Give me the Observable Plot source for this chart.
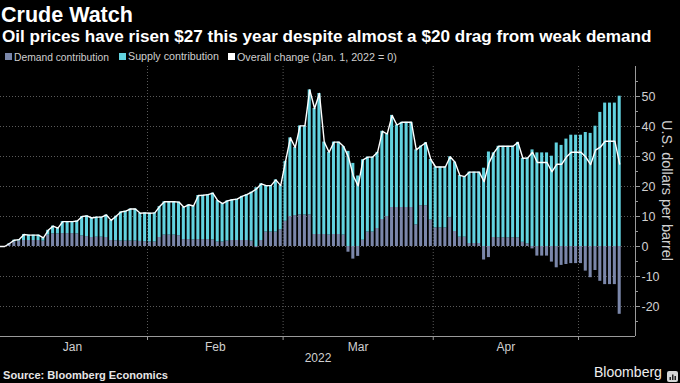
<!DOCTYPE html>
<html>
<head>
<meta charset="utf-8">
<script src="https://cdn.jsdelivr.net/npm/d3@7"></script>
<script src="https://cdn.jsdelivr.net/npm/@observablehq/plot@0.6"></script>
<style>
  html, body { margin: 0; padding: 0; background: #000; }
  #page { position: relative; width: 680px; height: 383px; overflow: hidden; background: #000; }
  .t { position: absolute; white-space: nowrap; }
  #chart { position: absolute; left: 0; top: 62px; }
</style>
</head>
<body>
<div id="page"><div id="chart"></div></div>
<script>
// ---------------- data ----------------
const startDate = "2022-01-01";

// Overall change in price (USD/bbl vs Jan 1, 2022), one value per calendar day from Jan 1 to May 9
const overall = [
  0, 0, 1.0, 2.1, 2.3, 4.0, 3.8, 3.8, 3.8, 2.9,
  5.4, 6.8, 6.1, 8.3, 8.3, 8.3, 8.5, 10.0, 10.2, 9.5,
  9.8, 9.8, 10.5, 8.7, 10.1, 11.5, 11.8, 12.5, 12.5, 11.1,
  11.2, 11.1, 11.2, 13.3, 14.9, 14.9, 14.9, 14.8, 13.1, 13.9,
  13.5, 17.0, 17.1, 17.3, 17.8, 15.3, 14.3, 15.2, 15.6, 15.8,
  16.7, 17.3, 18.1, 19.2, 20.9, 20.3, 20.3, 22.2, 20.3, 28.4,
  36.2, 33.0, 40.2, 40.2, 52.2, 46.0, 51.0, 34.8, 31.4, 34.8,
  34.8, 33.3, 29.8, 23.5, 20.2, 28.9, 29.8, 29.8, 31.4, 38.4,
  37.5, 43.7, 40.5, 41.4, 41.4, 41.4, 32.2, 33.5, 34.6, 29.0,
  26.5, 26.5, 26.5, 29.9, 28.1, 23.7, 23.3, 24.8, 24.8, 24.8,
  21.6, 27.8, 31.2, 33.4, 33.4, 33.4, 33.4, 34.7, 29.4, 29.5,
  31.4, 28.0, 28.0, 28.0, 24.9, 27.4, 27.4, 29.8, 31.4, 31.4,
  31.4, 29.8, 27.3, 32.1, 33.1, 35.1, 35.1, 35.1, 27.5
];

// Demand contribution
const demand = [
  0, 0, 0.8, 1.5, 1.8, 2.0, 2.0, 2.0, 2.0, 1.8,
  3.8, 4.2, 4.2, 4.3, 4.3, 4.3, 4.2, 3.5, 3.3, 3.0,
  3.1, 3.1, 3.0, 2.0, 1.9, 1.8, 1.8, 1.8, 1.8, 1.7,
  1.6, 1.5, 1.5, 3.0, 3.8, 3.8, 3.8, 3.6, 2.3, 2.3,
  2.2, 2.3, 2.3, 2.3, 2.2, 1.5, 1.5, 1.8, 2.0, 2.0,
  2.0, 2.0, 1.8, -0.4, 2.0, 4.8, 4.8, 4.8, 5.6, 8.4,
  10.0, 10.3, 10.5, 10.5, 10.5, 4.0, 4.0, 4.0, 3.8, 4.0,
  4.0, 3.8, -1.9, -4.2, -3.3, 2.1, 4.8, 4.8, 6.0, 9.0,
  10.0, 13.0, 13.0, 13.0, 13.0, 13.0, 7.2, 13.6, 13.6, 8.8,
  6.2, 6.2, 6.2, 9.6, 5.0, 3.1, 3.1, 1.0, 1.0, 1.0,
  -4.5, -3.7, 3.0, 2.9, 2.9, 2.9, 2.9, 2.9, 1.4, 0.9,
  -0.8, -3.2, -3.2, -3.2, -5.2, -7.1, -6.3, -6.0, -5.7, -5.7,
  -5.7, -8.2, -10.4, -8.0, -11.6, -12.7, -12.7, -12.7, -22.6
];

// Supply contribution
const supply = [
  0, 0, 0.2, 0.6, 0.5, 2.0, 1.8, 1.8, 1.8, 1.1,
  1.6, 2.6, 1.9, 4.0, 4.0, 4.0, 4.3, 6.5, 6.9, 6.5,
  6.7, 6.7, 7.5, 6.7, 8.2, 9.7, 10.0, 10.7, 10.7, 9.4,
  9.6, 9.6, 9.7, 10.3, 11.1, 11.1, 11.1, 11.2, 10.8, 11.6,
  11.3, 14.7, 14.8, 15.0, 15.6, 13.8, 12.8, 13.4, 13.6, 13.8,
  14.7, 15.3, 16.3, 19.6, 18.9, 15.5, 15.5, 17.4, 14.7, 20.0,
  26.2, 22.7, 29.7, 29.7, 41.7, 42.0, 47.0, 30.8, 27.6, 30.8,
  30.8, 29.5, 31.7, 27.7, 23.5, 26.8, 25.0, 25.0, 25.4, 29.4,
  27.5, 30.7, 27.5, 28.4, 28.4, 28.4, 25.0, 19.9, 21.0, 20.2,
  20.3, 20.3, 20.3, 20.3, 23.1, 20.6, 20.2, 23.8, 23.8, 23.8,
  26.1, 31.5, 28.2, 30.5, 30.5, 30.5, 30.5, 31.8, 28.0, 28.6,
  32.2, 31.2, 31.2, 31.2, 30.1, 34.5, 33.7, 35.8, 37.1, 37.1,
  37.1, 38.0, 37.7, 40.1, 44.7, 47.8, 47.8, 47.8, 50.1
];

const seriesNames = ["Demand contribution", "Supply contribution", "Overall change (Jan. 1, 2022 = 0)"];
const monthNames = ["Jan", "Feb", "Mar", "Apr"];
const yTicks = [-20, -10, 0, 10, 20, 30, 40, 50];
const yMinorTicks = [-25, -15, -5, 5, 15, 25, 35, 45, 55];
const yDomain = [-30, 60];
const yearLabel = "2022";
const titleText = "Crude Watch";
const subtitleText = "Oil prices have risen $27 this year despite almost a $20 drag from weak demand";
const yLabel = "U.S. dollars per barrel";
const sourceText = "Source: Bloomberg Economics";
const brandText = "Bloomberg";

// ---------------- styles ----------------
const FONT = '"Liberation Sans", Arial, sans-serif';
const C = { demand: "#7b87aa", supply: "#62d2df", line: "#ffffff", grid: "#5a5a5a", axis: "#9a9a9a", label: "#d0d0d0", legend: "#cfcfcf" };

// ---------------- build ----------------
const page = document.getElementById("page");
const ctx = document.createElement("canvas").getContext("2d");
function place(text, { x, baseline, width, size = 12, weight = "normal", color = "#fff" }) {
  let fs = size;
  if (width) {
    ctx.font = `${weight} 100px ${FONT}`;
    fs = 100 * width / ctx.measureText(text).width;
  }
  const el = document.createElement("div");
  el.className = "t";
  el.textContent = text;
  el.style.font = `${weight} ${fs}px ${FONT}`;
  el.style.lineHeight = (fs * 1.117) + "px";
  el.style.left = x + "px";
  el.style.top = (baseline - 0.905 * fs) + "px";
  el.style.color = color;
  page.appendChild(el);
  return el;
}
function swatch(x, y, s, color) {
  const el = document.createElement("div");
  el.className = "t";
  Object.assign(el.style, { left: x + "px", top: y + "px", width: s + "px", height: s + "px", background: color });
  page.appendChild(el);
}

// header
place(titleText, { x: 1, baseline: 22.5, width: 132, weight: "bold", color: "#ffffff" });
place(subtitleText, { x: 2, baseline: 42, width: 650, weight: "bold", color: "#ffffff" });
swatch(5, 53, 7, C.demand);
place(seriesNames[0], { x: 14, baseline: 61, width: 95, color: C.legend });
swatch(119, 53, 7, C.supply);
place(seriesNames[1], { x: 128, baseline: 61, width: 91, color: C.legend });
swatch(228, 53, 7, C.line);
place(seriesNames[2], { x: 237, baseline: 61, width: 160, color: C.legend });

// footer
place(sourceText, { x: 3, baseline: 379, width: 165, weight: "bold", color: "#e6e6e6" });
place(brandText, { x: 594, baseline: 378, width: 68, color: "#eeeeee" });
const icon = document.createElement("div");
icon.className = "t";
icon.style.left = "667px"; icon.style.top = "368px";
icon.innerHTML = '<svg width="11" height="11"><rect width="11" height="11" rx="2" fill="#d6d6d6"/><rect x="2.5" y="6" width="1.5" height="3" fill="#222"/><rect x="5" y="3.5" width="1.5" height="5.5" fill="#222"/><rect x="7.5" y="5" width="1.5" height="4" fill="#222"/></svg>';
page.appendChild(icon);

// data tables
const day0 = new Date(startDate + "T00:00:00Z");
const days = overall.map((v, i) => ({ date: d3.utcDay.offset(day0, i), overall: v, demand: demand[i], supply: supply[i] }));
const long = days.flatMap(d => [
  { date: d.date, series: "Demand", value: d.demand },
  { date: d.date, series: "Supply", value: d.supply }
]);
const monthStarts = d3.utcMonth.range(day0, d3.utcMonth.offset(day0, 5)); // Jan 1 .. May 1
const boundaries = monthStarts.slice(1);
const mids = monthNames.map((m, i) => ({ label: m, date: new Date((+monthStarts[i] + +monthStarts[i + 1]) / 2) }));

// x scale calibration (4.843 px per day)
const DAY = 864e5;
const t0 = new Date(+day0 + 0.644 * DAY);
const t1 = new Date(+t0 + 131.12 * DAY);

const chart = Plot.plot({
  width: 680,
  height: 306,
  marginTop: 4,
  marginBottom: 32,
  marginLeft: 0,
  marginRight: 45,
  style: { background: "transparent", color: C.label, fontFamily: FONT, fontSize: "12px", overflow: "visible" },
  x: { type: "utc", domain: [t0, t1] },
  y: { domain: yDomain },
  color: { domain: ["Demand", "Supply"], range: [C.demand, C.supply] },
  marks: [
    Plot.ruleY(yTicks, { stroke: C.grid, strokeDasharray: "1,2" }),
    Plot.ruleX(boundaries, { stroke: C.grid, strokeDasharray: "1,2" }),
    Plot.rectY(long, { x: "date", interval: d3.utcDay, y: "value", fill: "series", insetLeft: 0.9, insetRight: 0.9 }),
    Plot.lineY(days, { x: d => d3.utcHour.offset(d.date, 12), y: "overall", stroke: C.line, strokeWidth: 1.4 }),
    Plot.ruleY([yDomain[0]], { stroke: C.axis }),
    Plot.ruleX([t1], { stroke: C.axis, y1: yDomain[0], y2: yDomain[1] }),
    Plot.axisX(boundaries, { anchor: "bottom", tickSize: 4, tickFormat: () => "", stroke: C.axis, label: null }),
    Plot.axisY(yTicks, { anchor: "right", tickSize: 4, tickPadding: 2, tickFormat: d => String(d), stroke: C.axis, fill: C.label, fontSize: 12.5, label: null }),
    Plot.axisY(yMinorTicks, { anchor: "right", tickSize: 2, tickFormat: () => "", stroke: C.axis, label: null }),
    Plot.text(mids, { x: "date", text: "label", frameAnchor: "bottom", textAnchor: "middle", lineAnchor: "middle", dy: 11, fill: C.label, fontSize: 12 }),
    Plot.text([yearLabel], { text: d => d, frameAnchor: "bottom", textAnchor: "middle", lineAnchor: "middle", dy: 22, fill: C.label, fontSize: 12 }),
    Plot.text([yLabel], { text: d => d, frameAnchor: "right", textAnchor: "middle", lineAnchor: "middle", rotate: 90, dx: 31, dy: -11, fill: C.label, fontSize: 14.5 })
  ]
});
document.getElementById("chart").appendChild(chart);
</script>
</body>
</html>
